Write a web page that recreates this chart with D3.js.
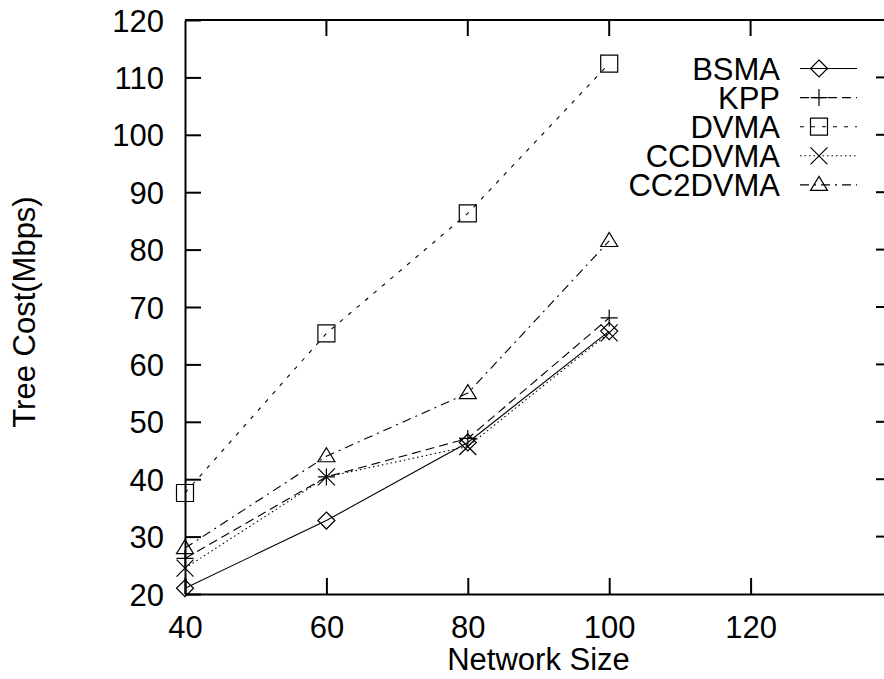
<!DOCTYPE html>
<html>
<head>
<meta charset="utf-8">
<script src="https://cdn.jsdelivr.net/npm/d3@7"></script>
<style>
body { margin: 0; background: #fff; }
svg text { font-family: "Liberation Sans", Arial, Helvetica, sans-serif; font-size: 31px; fill: #000; }
</style>
</head>
<body>
<svg id="chart" width="884" height="679"></svg>
<script>
var sizes   = [40, 60, 80, 100];
var bsma    = [21, 32.8, 46.4, 65.8];
var kpp     = [26.2, 40.4, 47.1, 68.1];
var dvma    = [37.6, 65.4, 86.3, 112.4];
var ccdvma  = [24.5, 40.4, 45.7, 65.5];
var cc2dvma = [28, 44, 55, 81.5];

var seriesNames = ["BSMA", "KPP", "DVMA", "CCDVMA", "CC2DVMA"];
var xTicks = [40, 60, 80, 100, 120];
var yTicks = [20, 30, 40, 50, 60, 70, 80, 90, 100, 110, 120];

// line style + point type per series, gnuplot-ish
var dashes  = [null, "9,5", "4,7", "1.5,3", "9,5,2,5"];
var symbols = ["diamond", "plus", "square", "cross", "triangle"];

var values = [bsma, kpp, dvma, ccdvma, cc2dvma];

var svg = d3.select("#chart");

// plot box (right edge sits just past the window, like the original)
var plotL = 185, plotR = 892, plotT = 20, plotB = 594;

var x = d3.scaleLinear().domain([40, 140]).range([plotL, plotR]);
var y = d3.scaleLinear().domain([20, 120]).range([plotB, plotT]);

function symbolPath(type, s) {
  if (type == "diamond")  return "M0," + (-s) + "L" + s + ",0L0," + s + "L" + (-s) + ",0Z";
  if (type == "plus")     return "M" + (-s) + ",0H" + s + "M0," + (-s) + "V" + s;
  if (type == "square")   return "M" + (-s) + "," + (-s) + "H" + s + "V" + s + "H" + (-s) + "Z";
  if (type == "cross")    return "M" + (-s) + "," + (-s) + "L" + s + "," + s + "M" + (-s) + "," + s + "L" + s + "," + (-s);
  if (type == "triangle") return "M0," + (-s) + "L" + s + "," + (0.65 * s) + "L" + (-s) + "," + (0.65 * s) + "Z";
}

// axes, ticks point inward
var xAxis = svg.append("g")
  .attr("transform", "translate(0," + plotB + ")")
  .call(d3.axisBottom(x).tickValues(xTicks).tickSizeInner(-16).tickSizeOuter(0).tickPadding(22));

var yAxis = svg.append("g")
  .attr("transform", "translate(" + plotL + ",0)")
  .call(d3.axisLeft(y).tickValues(yTicks).tickSizeInner(-16).tickSizeOuter(0).tickPadding(21));

svg.selectAll(".domain").attr("stroke", "#000").attr("stroke-width", 2);
svg.selectAll(".tick line").attr("stroke", "#000").attr("stroke-width", 2);
svg.selectAll(".tick text")
  .attr("font-size", null)
  .attr("font-family", null);
yAxis.selectAll(".tick text").attr("dy", "0.36em");

// top + right border with mirrored ticks
var border = svg.append("g").attr("stroke", "#000").attr("stroke-width", 2).attr("fill", "none");
border.append("path").attr("d", "M" + plotL + "," + plotT + "H" + plotR + "V" + plotB);

border.selectAll(".mx")
  .data(xTicks.slice(1))
  .enter().append("line")
  .attr("x1", function(d) { return x(d); })
  .attr("x2", function(d) { return x(d); })
  .attr("y1", plotT)
  .attr("y2", plotT + 16);

border.selectAll(".my")
  .data(yTicks.slice(1, -1))
  .enter().append("line")
  .attr("x1", plotR)
  .attr("x2", plotR - 16)
  .attr("y1", function(d) { return y(d); })
  .attr("y2", function(d) { return y(d); });

// axis titles
svg.append("text")
  .attr("x", (plotL + plotR) / 2)
  .attr("y", 670)
  .attr("text-anchor", "middle")
  .text("Network Size");

svg.append("text")
  .attr("transform", "translate(35," + ((plotT + plotB) / 2 + 5) + ") rotate(-90)")
  .attr("text-anchor", "middle")
  .text("Tree Cost(Mbps)");

// data
var line = d3.line()
  .x(function(d) { return x(d[0]); })
  .y(function(d) { return y(d[1]); });

values.forEach(function(vals, i) {
  var pts = sizes.map(function(s, j) { return [s, vals[j]]; });

  svg.append("path")
    .datum(pts)
    .attr("d", line)
    .attr("fill", "none")
    .attr("stroke", "#000")
    .attr("stroke-width", 1.1)
    .attr("stroke-dasharray", dashes[i]);

  svg.selectAll(".pt" + i)
    .data(pts)
    .enter().append("path")
    .attr("transform", function(d) { return "translate(" + x(d[0]) + "," + y(d[1]) + ")"; })
    .attr("d", symbolPath(symbols[i], 8.5))
    .attr("fill", "none")
    .attr("stroke", "#000")
    .attr("stroke-width", 1.2);
});

// legend
var legend = svg.append("g");
seriesNames.forEach(function(name, i) {
  var ly = 68.5 + i * 29.1;

  legend.append("text")
    .attr("x", 780)
    .attr("y", ly)
    .attr("dy", "0.36em")
    .attr("text-anchor", "end")
    .text(name);

  legend.append("line")
    .attr("x1", 800).attr("x2", 857)
    .attr("y1", ly).attr("y2", ly)
    .attr("stroke", "#000")
    .attr("stroke-width", 1.1)
    .attr("stroke-dasharray", dashes[i]);

  legend.append("path")
    .attr("transform", "translate(819," + ly + ")")
    .attr("d", symbolPath(symbols[i], 8.5))
    .attr("fill", "none")
    .attr("stroke", "#000")
    .attr("stroke-width", 1.2);
});
</script>
</body>
</html>
